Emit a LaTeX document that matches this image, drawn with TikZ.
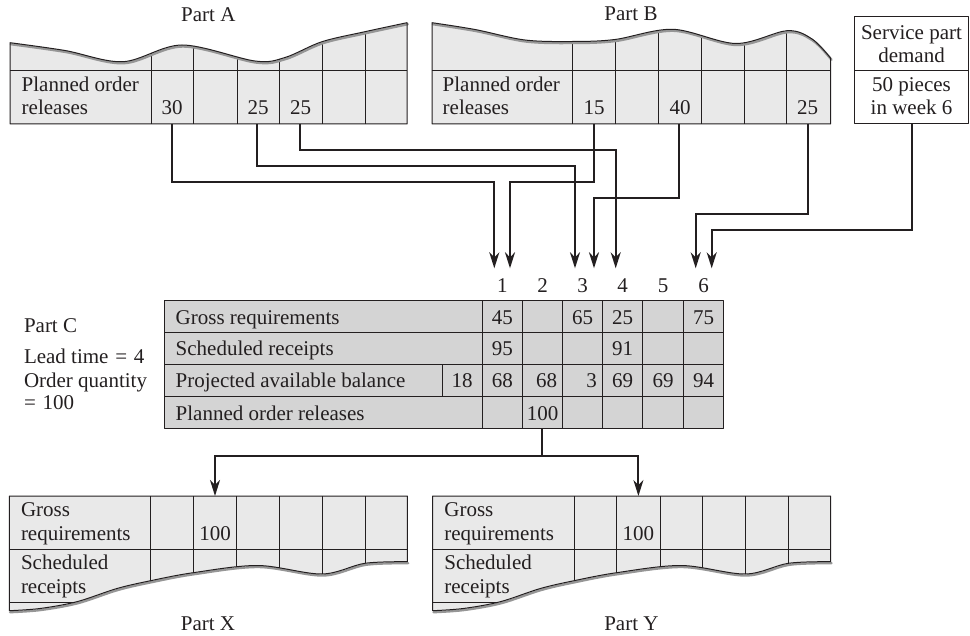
\documentclass[tikz,border=0pt]{standalone}
\usepackage{fontspec}
\setmainfont{Liberation Serif}
\usetikzlibrary{arrows.meta}
\definecolor{partfill}{RGB}{233,233,233}
\definecolor{tablefill}{RGB}{212,212,212}
\definecolor{ink}{RGB}{35,31,32}
\definecolor{shade}{RGB}{150,150,150}

\tikzset{
 grid/.style={draw=ink, line width=0.9pt},
 edge/.style={draw=ink, line width=1pt, line join=round},
 waveshadow/.style={draw=shade, line width=2.4pt, line cap=round},
 conn/.style={draw=ink, line width=2pt, -{Stealth[length=16pt,width=10pt,inset=5pt]}},
 link/.style={draw=ink, line width=2pt},
 txt/.style={inner sep=0pt, outer sep=0pt, font=\fontsize{21}{23.3}\selectfont, text=ink},
 lt/.style={txt, anchor=base west},
 ct/.style={txt, anchor=base},
}

% wavy outlines (image coordinates, y downwards)
\newcommand\waveAtop{-- plot[smooth,tension=0.55] coordinates {(10,42.7) (65,50.5) (123,61.7) (182,45) (255,61) (285,57.5) (322,41.7) (365,31.7) (407,22.7)}}
\newcommand\shapeAoutline{(10,124) -- (10,42.7) \waveAtop -- (407,124) -- cycle}
\newcommand\waveBtop{-- plot[smooth,tension=0.55] coordinates {(432,22.7) (475,29.5) (525,40) (573,41.5) (615,39.5) (673,29.3) (736,43.5) (787,30.7) (812,39) (830.7,58.3)}}
\newcommand\shapeBoutline{(432,124) -- (432,22.7) \waveBtop -- (830.7,124) -- cycle}
\newcommand\waveXYbot{-- plot[smooth,tension=0.55] coordinates {(407.3,561.7) (365,563.3) (322,574) (258,565.5) (193.3,572.7) (150.7,580.7) (117,588.5) (77,601.7) (40,608.5) (9.3,610.7)}}
\newcommand\shapeXYoutline{(9.3,610.7) -- (9.3,496) -- (407.3,496) -- (407.3,561.7) \waveXYbot -- cycle}

\newcommand\drawpartxy[3]{%
\begin{scope}[xshift=#1pt]
 \fill[partfill] \shapeXYoutline;
 \begin{scope}
  \clip \shapeXYoutline;
  \foreach \cx in {150.7,193.3,236.7,279.3,322,365} \draw[grid] (\cx,490) -- (\cx,620);
  \draw[grid] (9.3,549.3) -- (407.3,549.3);
  \draw[grid] (9.3,602.3) -- (150.7,602.3);
 \end{scope}
 \draw[waveshadow, shift={(0.8,1.5)}] (407.3,561.7) \waveXYbot;
 \draw[edge] \shapeXYoutline;
 \node[lt] (#2gross) at (21,516.7) {Gross};
 \node[lt] (#2req) at (21,540) {requirements};
 \node[ct] (#2val) at (215,540) {100};
 \node[lt] (#2sch) at (21,569.5) {Scheduled};
 \node[lt] (#2rec) at (21,593) {receipts};
 \node[ct] (#2name) at (208,630.7) {#3};
 \coordinate (#2top) at (215,496);
\end{scope}}

\begin{document}
\begin{tikzpicture}[x=1pt,y=-1pt]
\useasboundingbox (0,0) rectangle (970,636);

% ---------------- Part A ----------------
\fill[partfill] \shapeAoutline;
\begin{scope}
 \clip \shapeAoutline;
 \foreach \cx in {151,193,237,279,322,365} \draw[grid] (\cx,10) -- (\cx,130);
 \draw[grid] (10,70.7) -- (407,70.7);
\end{scope}
\draw[waveshadow, shift={(0.8,1.5)}] (10,42.7) \waveAtop;
\draw[edge] \shapeAoutline;
\node[ct] (partA) at (208.3,21.7) {Part A};
\node[lt] (aPl1) at (21.7,91.7) {Planned order};
\node[lt] (aPl2) at (21.7,115) {releases};
\node[ct] (aV1) at (172,115) {30};
\node[ct] (aV4) at (258,115) {25};
\node[ct] (aV5) at (300.5,115) {25};
\coordinate (a1) at (172,124);
\coordinate (a4) at (257,124);
\coordinate (a5) at (300,124);

% ---------------- Part B ----------------
\fill[partfill] \shapeBoutline;
\begin{scope}
 \clip \shapeBoutline;
 \foreach \cx in {572.7,615.7,658.3,701.7,744,786.7} \draw[grid] (\cx,10) -- (\cx,130);
 \draw[grid] (432,70.7) -- (830.7,70.7);
\end{scope}
\draw[waveshadow, shift={(0.8,1.5)}] (432,22.7) \waveBtop;
\draw[edge] \shapeBoutline;
\node[ct] (partB) at (631,21) {Part B};
\node[lt] (bPl1) at (442.7,91.7) {Planned order};
\node[lt] (bPl2) at (442.7,115) {releases};
\node[ct] (bV1) at (594.2,115) {15};
\node[ct] (bV3) at (680,115) {40};
\node[ct] (bV6) at (807.5,115) {25};
\coordinate (b1) at (594,124);
\coordinate (b3) at (679,124);
\coordinate (b6) at (808,124);

% ---------------- Service part ----------------
\draw[edge, fill=white] (854,16.7) rectangle (968.8,124);
\draw[grid] (854,70.7) -- (968.8,70.7);
\node[ct] (sp1) at (911.5,40) {Service part};
\node[ct] (sp2) at (911.5,62.7) {demand};
\node[ct] (sp3) at (911.5,91.7) {50 pieces};
\node[ct] (sp4) at (911.5,115) {in week 6};
\coordinate (s) at (912,124);

% ---------------- Part C ----------------
\fill[tablefill] (164.3,300.7) rectangle (723.7,428.7);
\foreach \ry in {332.7,364.3,396.5} \draw[grid] (164.3,\ry) -- (723.7,\ry);
\foreach \cx in {482.3,522.3,562.7,602.7,642.7,683.3} \draw[grid] (\cx,300.7) -- (\cx,428.7);
\draw[grid] (442,364.3) -- (442,396.5);
\draw[edge] (164.3,300.7) rectangle (723.7,428.7);

\node[lt] (cGR) at (175.7,324.5) {Gross requirements};
\node[lt] (cSR) at (175.7,355.5) {Scheduled receipts};
\node[lt] (cPAB) at (175.7,387.5) {Projected available balance};
\node[lt] (cPOR) at (175.7,420.5) {Planned order releases};

\node[ct] (w1) at (502.3,292.7) {1};
\node[ct] (w2) at (542.5,292.7) {2};
\node[ct] (w3) at (582.7,292.7) {3};
\node[ct] (w4) at (622.7,292.7) {4};
\node[ct] (w5) at (663,292.7) {5};
\node[ct] (w6) at (703.5,292.7) {6};

\node[ct] (g1) at (502.3,324.5) {45};
\node[ct] (g3) at (582.7,324.5) {65};
\node[ct] (g4) at (622.7,324.5) {25};
\node[ct] (g6) at (703.5,324.5) {75};
\node[ct] (r1) at (502.3,355.5) {95};
\node[ct] (r4) at (622.7,355.5) {91};
\node[ct] (p0) at (462.2,387.5) {18};
\node[ct] (p1) at (502.3,387.5) {68};
\node[ct] (p2) at (546.5,387.5) {68};
\node[ct] (p3) at (591.5,387.5) {3};
\node[ct] (p4) at (622.7,387.5) {69};
\node[ct] (p5) at (663,387.5) {69};
\node[ct] (p6) at (703.5,387.5) {94};
\node[ct] (o2) at (542.5,420.5) {100};
\coordinate (c100) at (542.3,428.7);

\node[lt] (partC) at (24,332.7) {Part C};
\node[lt] (lead) at (24,363.3) {Lead time\hspace{0.32em}=\hspace{0.32em}4};
\node[lt] (oq1) at (24,387.7) {Order quantity};
\node[lt] (oq2) at (24,409.3) {=\hspace{0.32em}100};

% arrow tips above the week columns
\coordinate (t1a) at (494.3,268.3);
\coordinate (t1b) at (510,268.3);
\coordinate (t3a) at (575,268.3);
\coordinate (t3b) at (594,268.3);
\coordinate (t4a) at (615.7,268.3);
\coordinate (t6a) at (695.7,268.3);
\coordinate (t6b) at (711.7,268.3);

\draw[conn] (a1) -- ++(0,57.7) -| (t1a);
\draw[conn] (a4) -- ++(0,41.7) -| (t3a);
\draw[conn] (a5) -- ++(0,26) -| (t4a);
\draw[conn] (b1) -- ++(0,57.7) -| (t1b);
\draw[conn] (b3) -- ++(0,74.3) -| (t3b);
\draw[conn] (b6) -- ++(0,90) -| (t6a);
\draw[conn] (s) -- ++(0,106) -| (t6b);

% ---------------- Parts X and Y ----------------
\drawpartxy{0}{x}{Part X}
\drawpartxy{423.4}{y}{Part Y}

\draw[conn] (c100) -- ++(0,27.3) -| (xtop);
\draw[conn] (c100) -- ++(0,27.3) -| (ytop);
\end{tikzpicture}
\end{document}
